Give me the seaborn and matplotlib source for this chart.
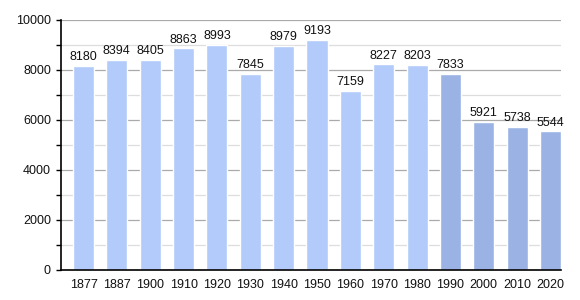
import matplotlib
matplotlib.use("Agg")
import matplotlib.pyplot as plt
import seaborn as sns
import pandas as pd
from matplotlib.ticker import MultipleLocator

years = ["1877", "1887", "1900", "1910", "1920", "1930", "1940", "1950",
         "1960", "1970", "1980", "1990", "2000", "2010", "2020"]
population = [8180, 8394, 8405, 8863, 8993, 7845, 8979, 9193,
              7159, 8227, 8203, 7833, 5921, 5738, 5544]
light = "#b3cbfb"
dark = "#9bb3e4"
colors = [light] * 11 + [dark] * 4

df = pd.DataFrame({"year": years, "pop": population})

sns.set_style("white")
plt.rcParams['font.family'] = ['Liberation Sans', 'DejaVu Sans']

fig = plt.figure(figsize=(5.8, 3.0), dpi=100)
ax = fig.add_axes([61 / 580, 30 / 300, 500 / 580, 250 / 300])

sns.barplot(data=df, x="year", y="pop", hue="year", palette=colors,
            legend=False, width=0.63, ax=ax, saturation=1)

ax.set_ylim(0, 10000)
ax.set_xlim(-0.675, 14.315)
ax.yaxis.set_major_locator(MultipleLocator(2000))
ax.yaxis.set_minor_locator(MultipleLocator(1000))
ax.grid(axis="y", which="major", color="#aaaaaa", linewidth=0.9, zorder=0)
ax.grid(axis="y", which="minor", color="#dddddd", linewidth=0.9, zorder=0)
ax.set_axisbelow(True)

for c in ax.containers:
    ax.bar_label(c, fmt="%d", fontsize=9, padding=2, color="#111111")

ax.set_xlabel("")
ax.set_ylabel("")
for s in ["top", "right"]:
    ax.spines[s].set_visible(False)
for s in ["left", "bottom"]:
    ax.spines[s].set_color("black")
    ax.spines[s].set_linewidth(1.2)
ax.tick_params(axis="y", which="major", left=True, length=3.6, width=1,
               color="black", labelsize=9, pad=3.6, labelcolor="#111111")
ax.tick_params(axis="y", which="minor", left=True, length=3.6, width=1, color="black")
ax.tick_params(axis="x", bottom=False, labelsize=9, pad=3, labelcolor="#111111")

fig.savefig("out.png", dpi=100)
